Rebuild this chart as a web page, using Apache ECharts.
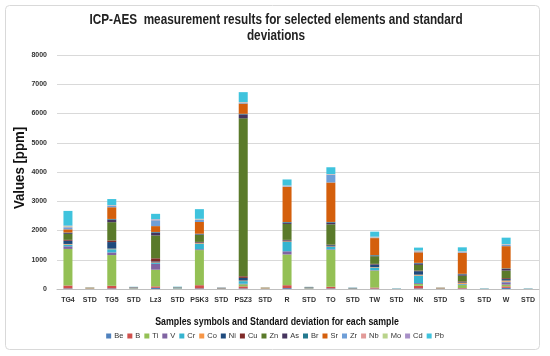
<!DOCTYPE html>
<html><head><meta charset="utf-8">
<script src="https://cdn.jsdelivr.net/npm/echarts@6/dist/echarts.min.js"></script>
<style>html,body{margin:0;padding:0;background:#fff}#c{width:550px;height:356px}</style>
</head><body><div id="c"></div>
<script>
const categories = ['TG4','STD','TG5','STD','Lz3','STD','PSK3','STD','PSZ3','STD','R','STD','TO','STD','TW','STD','NK','STD','S','STD','W','STD'];
const elements = ['Be','B','Ti','V','Cr','Co','Ni','Cu','Zn','As','Br','Sr','Zr','Nb','Mo','Cd','Pb'];
const Be = [20,2,20,5,40,5,20,5,20,2,30,5,20,5,15,2,20,2,15,2,40,2];
const B  = [100,5,90,5,50,5,110,5,70,5,100,5,57,3,35,2,90,5,20,2,50,2];
const Ti = [1250,10,1050,10,570,10,1200,5,70,10,1050,10,1260,5,580,3,60,5,100,3,60,3];
const V  = [90,3,90,5,200,5,30,3,20,3,110,5,20,3,15,1,30,2,20,1,80,1];
const Cr = [60,2,110,5,30,8,190,3,90,2,320,5,80,5,90,3,260,2,20,3,20,3];
const Co = [20,8,20,3,20,3,20,3,20,8,20,3,20,2,15,1,30,8,35,1,40,1];
const Ni = [110,2,225,10,30,3,20,5,90,2,30,8,40,5,90,2,120,2,20,2,50,2];
const Cu = [30,3,55,3,110,3,20,3,55,3,20,3,20,2,20,1,20,3,30,1,30,1];
const Zn = [200,3,625,5,780,5,240,3,5400,3,545,5,695,3,260,1,195,3,195,1,260,1];
const As = [30,2,90,5,100,3,20,5,135,2,45,5,60,2,20,1,50,2,45,1,55,1];
const Br = [20,2,20,3,20,10,20,3,20,2,20,8,20,3,20,2,20,2,20,2,20,2];
const Sr = [110,8,400,3,200,3,400,3,350,8,1200,3,1350,2,580,1,360,8,720,1,760,1];
const Zr = [70,3,45,5,200,5,80,3,20,2,20,3,260,5,20,3,30,3,20,3,40,3];
const Nb = [20,2,10,2,10,2,10,2,10,2,10,2,10,2,10,2,10,2,10,2,10,2];
const Mo = [20,5,10,2,10,2,10,2,10,5,10,2,10,2,10,2,10,5,10,2,10,2];
const Cd = [20,2,10,2,20,2,10,2,10,2,10,2,10,2,10,2,10,2,10,2,10,2];
const Pb = [500,3,205,5,180,8,330,3,340,2,205,3,230,5,170,5,100,2,135,5,220,5];
const yTicks = [0,1000,2000,3000,4000,5000,6000,7000,8000];
const titleText = 'ICP-AES  measurement results for selected elements and standard\ndeviations';
const xName = 'Samples symbols and Standard deviation for each sample';
const yName = 'Values [ppm]';

const dataByEl = {Be,B,Ti,V,Cr,Co,Ni,Cu,Zn,As,Br,Sr,Zr,Nb,Mo,Cd,Pb};
const colors = ['#4F81BD','#D0504D','#94C055','#8064A2','#35B4D0','#F79646','#1F4A7D','#7F2A28','#5A7A2A','#45345E','#23798F','#D45F0C','#6F9FD8','#E29A98','#B9D38B','#A890C8','#3FC3DD'];
const font = "'Liberation Sans',Arial,sans-serif";

const chart = echarts.init(document.getElementById('c'), null, {renderer:'canvas'});
chart.setOption({
  animation:false,
  color: colors,
  graphic:[
    {type:'rect', shape:{x:5.5,y:5.5,width:534,height:344,r:4}, style:{fill:null, stroke:'#d9d9d9', lineWidth:1}, silent:true},
    {type:'text', x:276, y:12, scaleX:0.84, silent:true,
     style:{text:titleText, font:"bold 14px "+font, fill:'#222', textAlign:'center', lineHeight:16}},
    {type:'text', x:277, y:317, scaleX:0.88, silent:true,
     style:{text:xName, font:"bold 10px "+font, fill:'#111', textAlign:'center'}},
    {type:'text', x:20, y:168, rotation:Math.PI/2, scaleX:0.88, silent:true,
     style:{text:yName, font:"bold 15px "+font, fill:'#111', textAlign:'center', textVerticalAlign:'middle'}}
  ],
  legend:{
    data: elements, bottom:11, left:'center',
    itemWidth:5, itemHeight:5, itemGap:4,
    icon:'rect',
    textStyle:{fontFamily:font, fontSize:7.5, color:'#333', padding:[0,0,0,-2]}
  },
  grid:{left:57, right:11, top:55, bottom:67},
  xAxis:{
    type:'category', data:categories,
    axisLine:{lineStyle:{color:'#bfbfbf'}},
    axisTick:{show:false},
    axisLabel:{interval:0, fontFamily:font, fontWeight:'bold', fontSize:7, color:'#333', margin:8}
  },
  yAxis:{
    type:'value', min:yTicks[0], max:yTicks[yTicks.length-1], interval:1000,
    axisLine:{show:false}, axisTick:{show:false},
    splitLine:{lineStyle:{color:'#d9d9d9'}},
    axisLabel:{fontFamily:font, fontWeight:'bold', fontSize:7, color:'#333', margin:10, formatter: v => String(v)}
  },
  series: elements.map(el => ({
    name: el, type:'bar', stack:'total', barWidth:9,
    data: dataByEl[el]
  }))
});
</script></body></html>
